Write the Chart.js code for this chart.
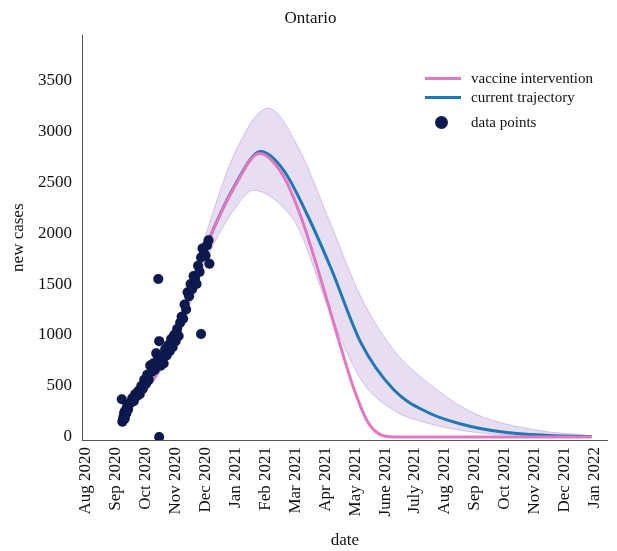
<!DOCTYPE html>
<html><head><meta charset="utf-8">
<script src="https://cdn.jsdelivr.net/npm/chart.js@4"></script>
<style>
body{margin:0;background:#fff;}
#wrap{position:relative;width:617px;height:551px;}
#legend{position:absolute;left:425px;top:69px;font-family:'Liberation Serif',serif;font-size:15px;color:#111;}
#legend div{height:19px;display:flex;align-items:center;}
#legend .ln{width:36px;height:3px;margin-right:10px;}
#legend .dot{width:13px;height:13px;border-radius:50%;background:#0d1a4f;margin:0 23px 0 10px;}
</style></head><body>
<div id="wrap"><canvas id="c" width="617" height="551"></canvas>
<div id="legend">
<div><span class="ln" style="background:#e377c2"></span>vaccine intervention</div>
<div><span class="ln" style="background:#1f77b4"></span>current trajectory</div>
<div style="margin-top:6px"><span class="dot"></span>data points</div>
</div></div>
<script>
// x = months since Aug 1 2020
const monthLabels = ['Aug 2020','Sep 2020','Oct 2020','Nov 2020','Dec 2020','Jan 2021','Feb 2021','Mar 2021','Apr 2021','May 2021','June 2021','July 2021','Aug 2021','Sep 2021','Oct 2021','Nov 2021','Dec 2021','Jan 2022'];
const yTicks = [0, 500, 1000, 1500, 2000, 2500, 3000, 3500];

const currentX = [1.25, 2, 3, 4, 5, 5.85, 6.6, 7.4, 8.2, 9.2, 10.3, 11.4, 12.5, 14, 15.5, 16.9];
const current  = [300, 470, 970, 1850, 2480, 2800, 2620, 2180, 1650, 920, 460, 245, 130, 45, 15, 4];

const vaccineX = [1.25, 2, 3, 4, 5, 5.8, 6.6, 7.2, 7.8, 8.4, 8.95, 9.4, 9.8, 10.3, 12, 16.9];
const vaccine  = [300, 470, 970, 1850, 2470, 2780, 2560, 2150, 1600, 1000, 480, 160, 30, 0, 0, 0];

const bandHighX = [1.25, 2, 3, 4, 5, 6.1, 7.1, 8.1, 9.2, 10.3, 11.4, 13, 15, 16.9];
const bandHigh  = [315, 490, 1030, 1980, 2800, 3225, 2840, 2150, 1370, 850, 540, 230, 70, 12];
const bandLowX  = [1.25, 2, 3, 4, 5, 5.6, 6.5, 7.1, 8.1, 9.2, 10.3, 11.4, 13, 15, 16.9];
const bandLow   = [285, 450, 910, 1720, 2250, 2420, 2280, 2050, 1270, 560, 260, 137, 45, 10, 1];

const dataX = [1.2,1.22,1.24,1.26,1.28,1.3,1.32,1.35,1.38,1.41,1.45,1.5,1.55,1.6,1.65,1.7,1.75,1.8,1.85,1.9,1.95,2.0,2.05,2.1,2.15,2.2,2.25,2.3,2.35,2.4,2.45,2.5,2.55,2.6,2.65,2.7,2.75,2.8,2.85,2.9,2.95,3.0,3.05,3.1,3.15,3.2,3.25,3.3,3.35,3.4,3.45,3.5,3.55,3.6,3.65,3.7,3.75,3.8,3.85,3.9,3.95,4.0,4.05,4.1,4.13,2.42,2.45,3.85];
const dataY = [370,150,170,200,240,180,260,230,300,270,320,340,380,350,420,400,450,420,500,470,560,520,610,560,700,640,720,660,820,760,940,700,800,720,860,800,900,840,960,880,1000,940,1060,990,1120,1180,1160,1300,1250,1420,1380,1500,1450,1580,1560,1500,1680,1620,1760,1850,1800,1780,1880,1930,1700,1550,0,1010];

const serif = "'Liberation Serif', 'Times New Roman', serif";
Chart.defaults.font.family = serif;
Chart.defaults.color = '#111';

const toPts = (xs, ys) => xs.map((x, i) => ({x, y: ys[i]}));
const smooth = { pointRadius: 0, cubicInterpolationMode: 'monotone' };

new Chart(document.getElementById('c'), {
  type: 'scatter',
  data: { datasets: [
    { data: toPts(dataX, dataY), backgroundColor: '#0d1a4f', pointRadius: 5, order: 0 },
    { type: 'line', data: toPts(vaccineX, vaccine), borderColor: '#e377c2', borderWidth: 3, ...smooth, order: 1 },
    { type: 'line', data: toPts(currentX, current), borderColor: '#1f77b4', borderWidth: 3, ...smooth, order: 2 },
    { type: 'line', data: toPts(bandHighX, bandHigh), borderColor: 'rgba(148,103,189,0.35)', borderWidth: 1, ...smooth, fill: '+1', backgroundColor: 'rgba(148,103,189,0.22)', order: 3 },
    { type: 'line', data: toPts(bandLowX, bandLow), borderColor: 'rgba(148,103,189,0.35)', borderWidth: 1, ...smooth, order: 4 },
  ]},
  options: {
    responsive: false, animation: false,
    layout: { padding: { top: 0, right: 0, left: 4, bottom: 0 } },
    plugins: {
      legend: { display: false }, tooltip: { enabled: false },
      title: { display: true, text: 'Ontario', font: { size: 17, weight: 'normal' }, padding: { top: 8, bottom: 7 } }
    },
    scales: {
      x: {
        type: 'linear', min: -0.13, max: 17.45,
        afterBuildTicks: ax => { ax.ticks = monthLabels.map((_, i) => ({ value: i })); },
        afterFit: ax => { ax.height = 111; },
        ticks: { callback: v => monthLabels[v], minRotation: 90, maxRotation: 90, font: { size: 17 }, color: '#111', padding: 2 },
        grid: { display: false, drawTicks: true, tickLength: 5, tickColor: '#444' },
        border: { color: '#555' },
        title: { display: true, text: 'date', font: { size: 17 }, padding: { top: 2, bottom: 0 } }
      },
      y: {
        min: -30, max: 3940,
        afterBuildTicks: ax => { ax.ticks = yTicks.map(v => ({ value: v })); },
        afterFit: ax => { ax.width = 78; },
        ticks: { callback: v => String(v), font: { size: 17 }, color: '#111', padding: 4 },
        grid: { display: false, drawTicks: true, tickLength: 6, tickColor: '#444' },
        border: { color: '#555' },
        title: { display: true, text: 'new cases', font: { size: 17 }, padding: { bottom: 2 } }
      }
    }
  }
});
</script></body></html>
